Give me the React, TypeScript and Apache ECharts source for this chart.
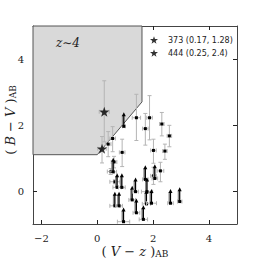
import React, { useEffect, useRef } from "react";
import * as echarts from "echarts";

// Selection region (z~4 box)
const selX = [-2.3, 0, 1.6, 1.6, -2.3];
const selY = [1.1, 1.1, 2.7, 5, 5];

// Detections with error bars
const detX = [0.39, 0.55, 0.89, 1.40, 1.72, 1.87, 2.31, 2.58, 2.01, 2.42, 2.26, 2.01, 0.48, 0.60, 0.63];
const detY = [1.42, 1.59, 1.17, 2.22, 1.89, 2.22, 2.03, 1.67, 1.23, 1.21, 0.61, 0.46, 0.59, 0.88, 0.28];
const detXErr = [0.10, 0.10, 0.10, 0.15, 0.10, 0.10, 0.08, 0.08, 0.10, 0.08, 0.12, 0.10, 0.12, 0.10, 0.18];
const detYLo = [1.04, 1.19, 0.74, 1.53, 1.39, 1.55, 1.67, 1.34, 0.84, 0.96, 0.28, 0.20, 0.50, 0.70, 0.22];
const detYHi = [1.80, 1.95, 1.57, 2.93, 2.35, 2.89, 2.38, 1.99, 1.57, 1.42, 0.87, 0.72, 0.68, 1.05, 0.34];

// Lower limits (arrows)
const limX = [0.95, 0.57, 0.71, 0.88, 0.63, 0.78, 0.94, 1.25, 1.37, 1.40, 1.72, 2.06, 1.78, 1.76, 1.65, 1.94, 2.62, 2.95];
const limY = [1.96, 0.58, 0.11, 0.11, -0.45, -0.45, -0.93, -0.27, -0.02, -0.66, 0.35, 0.38, -0.02, -0.39, -0.86, -0.37, -0.37, -0.32];
const limXErr = [0.05, 0.12, 0.15, 0.12, 0.18, 0.12, 0.22, 0.12, 0.10, 0.12, 0.10, 0.10, 0.20, 0.15, 0.15, 0.18, 0.10, 0.08];
const ARROW_LEN = 0.43;

// Highlighted objects
const starNames = ["373 (0.17, 1.28)", "444 (0.25, 2.4)"];
const starX = [0.17, 0.25];
const starY = [1.28, 2.4];
const starXErr = [0.15, 0.18];
const starYLo = [0.85, 1.49];
const starYHi = [1.65, 3.34];

const xTicks = [-2, 0, 2, 4];
const yTicks = [0, 2, 4];

const xTitle = "( {it|V} \u2212 {it|z} ){sub|AB}";
const yTitle = "( {it|B} \u2212 {it|V} ){sub|AB}";

const STAR =
  "path://M0,-10 L2.35,-3.24 L9.51,-3.09 L3.8,1.24 L5.88,8.09 L0,4 L-5.88,8.09 L-3.8,1.24 L-9.51,-3.09 L-2.35,-3.24 Z";

const ERR = "#b4b4b4";

function errBars(api: any, x: number, y: number, xe: number, ylo: number, yhi: number) {
  const c = api.coord([x, y]);
  const l = api.coord([x - xe, y]);
  const r = api.coord([x + xe, y]);
  const lo = api.coord([x, ylo]);
  const hi = api.coord([x, yhi]);
  const cap = 2;
  const st = { stroke: ERR, lineWidth: 1 };
  return [
    { type: "line", shape: { x1: c[0], y1: lo[1], x2: c[0], y2: hi[1] }, style: st },
    { type: "line", shape: { x1: c[0] - cap, y1: lo[1], x2: c[0] + cap, y2: lo[1] }, style: st },
    { type: "line", shape: { x1: c[0] - cap, y1: hi[1], x2: c[0] + cap, y2: hi[1] }, style: st },
    { type: "line", shape: { x1: l[0], y1: c[1], x2: r[0], y2: c[1] }, style: st },
    { type: "line", shape: { x1: l[0], y1: c[1] - cap, x2: l[0], y2: c[1] + cap }, style: st },
    { type: "line", shape: { x1: r[0], y1: c[1] - cap, x2: r[0], y2: c[1] + cap }, style: st },
  ];
}

export default function App() {
  const ref = useRef<HTMLDivElement>(null);
  useEffect(() => {
    if (!ref.current) return;
    const chart = echarts.init(ref.current, null, { renderer: "svg" });
    const axisLine = { show: true, onZero: false, lineStyle: { color: "#444", width: 1 } };
    const axisTick = { show: true, inside: true, length: 4, lineStyle: { color: "#222", width: 1 } };
    const labelStyle = { fontFamily: "DejaVu Serif", fontSize: 10, color: "#222" };
    const nameRich = {
      it: { fontFamily: "DejaVu Serif", fontStyle: "italic", fontSize: 13, fill: "#222", color: "#222" },
      sub: { fontFamily: "DejaVu Serif", fontSize: 9, fill: "#222", color: "#222", padding: [5, 0, 0, 0] },
    };

    const detData = detX.map((x, i) => [x, detY[i], detXErr[i], detYLo[i], detYHi[i]]);
    const limData = limX.map((x, i) => [x, limY[i], limXErr[i]]);
    const starErrData = starX.map((x, i) => [x, starY[i], starXErr[i], starYLo[i], starYHi[i]]);

    chart.setOption({
      animation: false,
      grid: { left: 33, right: 27, top: 26, bottom: 40, containLabel: false, outerBoundsMode: "none" },
      legend: {
        show: true,
        orient: "vertical",
        left: 145,
        top: 31,
        itemWidth: 8,
        itemHeight: 8,
        itemGap: 5,
        icon: STAR,
        data: starNames,
        textStyle: { fontFamily: "DejaVu Sans", fontSize: 8, color: "#222", padding: [0, 0, 0, 5] },
      },
      graphic: [
        {
          type: "text",
          x: 135,
          y: 251,
          style: {
            text: xTitle,
            rich: nameRich,
            fontFamily: "DejaVu Serif",
            fontSize: 13,
            fill: "#222",
            align: "center",
            verticalAlign: "middle",
          },
        },
        {
          type: "text",
          x: 10,
          y: 120,
          rotation: Math.PI / 2,
          style: {
            text: yTitle,
            rich: nameRich,
            fontFamily: "DejaVu Serif",
            fontSize: 13,
            fill: "#222",
            align: "center",
            verticalAlign: "middle",
          },
        },
      ],
      xAxis: [
        {
          type: "value",
          min: -2.3,
          max: 5,
          axisLine,
          axisTick: { ...axisTick, customValues: xTicks },
          splitLine: { show: false },
          axisLabel: {
            ...labelStyle,
            margin: 9,
            customValues: xTicks,
            formatter: (v: number) => (v < 0 ? "\u2212" + Math.abs(v) : String(v)),
          },
        },
        {
          type: "value",
          position: "top",
          min: -2.3,
          max: 5,
          axisLine,
          axisTick: { ...axisTick, customValues: xTicks },
          axisLabel: { show: false },
          splitLine: { show: false },
        },
      ],
      yAxis: [
        {
          type: "value",
          min: -1,
          max: 5,
          axisLine,
          axisTick: { ...axisTick, customValues: yTicks },
          splitLine: { show: false },
          axisLabel: { ...labelStyle, margin: 9, customValues: yTicks },
        },
        {
          type: "value",
          position: "right",
          min: -1,
          max: 5,
          axisLine,
          axisTick: { ...axisTick, customValues: yTicks },
          axisLabel: { show: false },
          splitLine: { show: false },
        },
      ],
      series: [
        {
          type: "custom",
          name: "region",
          data: selX.map((x, i) => [x, selY[i]]),
          silent: true,
          z: 1,
          renderItem: (params: any, api: any) => {
            if (params.dataIndex !== 0) return null;
            const pts = selX.map((x, i) => api.coord([x, selY[i]]));
            return {
              type: "polygon",
              shape: { points: pts },
              style: { fill: "#d9d9d9", stroke: "#555", lineWidth: 1 },
            };
          },
        },
        {
          type: "custom",
          name: "label",
          data: [[-1.05, 4.48]],
          silent: true,
          z: 2,
          renderItem: (params: any, api: any) => {
            const c = api.coord([api.value(0), api.value(1)]);
            return {
              type: "text",
              x: c[0],
              y: c[1],
              style: {
                text: "z\u223C4",
                fill: "#222",
                font: "italic 12px 'DejaVu Serif'",
                align: "center",
                verticalAlign: "middle",
              },
            };
          },
        },
        {
          type: "custom",
          name: "detections",
          data: detData,
          z: 3,
          renderItem: (params: any, api: any) => {
            const x = api.value(0), y = api.value(1);
            const c = api.coord([x, y]);
            return {
              type: "group",
              children: [
                ...errBars(api, x, y, api.value(2), api.value(3), api.value(4)),
                { type: "rect", shape: { x: c[0] - 1.5, y: c[1] - 1.5, width: 3, height: 3 }, style: { fill: "#000" } },
              ],
            };
          },
        },
        {
          type: "custom",
          name: "limits",
          data: limData,
          z: 4,
          renderItem: (params: any, api: any) => {
            const x = api.value(0), y = api.value(1), xe = api.value(2);
            const c = api.coord([x, y]);
            const l = api.coord([x - xe, y]);
            const r = api.coord([x + xe, y]);
            const t = api.coord([x, y + ARROW_LEN]);
            const cap = 2;
            const st = { stroke: ERR, lineWidth: 1 };
            return {
              type: "group",
              children: [
                { type: "line", shape: { x1: l[0], y1: c[1], x2: r[0], y2: c[1] }, style: st },
                { type: "line", shape: { x1: l[0], y1: c[1] - cap, x2: l[0], y2: c[1] + cap }, style: st },
                { type: "line", shape: { x1: r[0], y1: c[1] - cap, x2: r[0], y2: c[1] + cap }, style: st },
                { type: "line", shape: { x1: c[0] - 1, y1: c[1], x2: c[0] - 1, y2: t[1] + 3 }, style: { stroke: "#8c8c8c", lineWidth: 2 } },
                { type: "line", shape: { x1: c[0], y1: c[1], x2: c[0], y2: t[1] + 3 }, style: { stroke: "#000", lineWidth: 1.2 } },
                {
                  type: "polygon",
                  shape: { points: [[c[0], t[1]], [c[0] - 2, t[1] + 4], [c[0] + 2, t[1] + 4]] },
                  style: { fill: "#000" },
                },
                { type: "rect", shape: { x: c[0] - 1.5, y: c[1] - 1.5, width: 3, height: 3 }, style: { fill: "#000" } },
              ],
            };
          },
        },
        {
          type: "custom",
          name: "starErr",
          data: starErrData,
          z: 3,
          renderItem: (params: any, api: any) => ({
            type: "group",
            children: errBars(api, api.value(0), api.value(1), api.value(2), api.value(3), api.value(4)),
          }),
        },
        ...starNames.map((n, i) => ({
          type: "scatter",
          name: n,
          data: [[starX[i], starY[i]]],
          symbol: STAR,
          symbolSize: 10,
          itemStyle: { color: "#000" },
          z: 5,
        })),
      ],
    } as any);
    return () => chart.dispose();
  }, []);
  return <div ref={ref} style={{ position: "absolute", left: 0, top: 0, width: 264, height: 264 }} />;
}
